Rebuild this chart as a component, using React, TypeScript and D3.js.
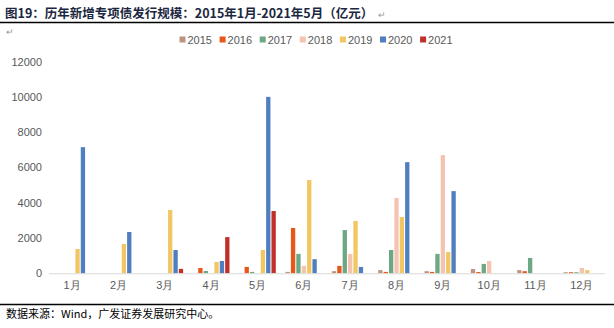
import React from "react";
import * as d3 from "d3";

const months = ["1月", "2月", "3月", "4月", "5月", "6月", "7月", "8月", "9月", "10月", "11月", "12月"];
const years = ["2015", "2016", "2017", "2018", "2019", "2020", "2021"];
const colors = ["#BC9581", "#E8561A", "#6DA885", "#F5C4B1", "#F2C663", "#4F7FBF", "#C0302A"];

const s2015 = [0, 0, 0, 0, 0, 80, 120, 180, 120, 240, 180, 60];
const s2016 = [0, 0, 0, 300, 360, 2570, 420, 80, 80, 70, 120, 60];
const s2017 = [0, 0, 0, 130, 80, 1100, 2450, 1320, 1100, 530, 870, 60];
const s2018 = [0, 0, 0, 0, 0, 420, 1100, 4270, 6700, 700, 0, 300];
const s2019 = [1380, 1660, 3590, 640, 1320, 5290, 2970, 3190, 1210, 0, 0, 180];
const s2020 = [7150, 2340, 1320, 700, 10000, 800, 360, 6300, 4660, 0, 0, 0];
const s2021 = [0, 0, 250, 2050, 3530, 0, 0, 0, 0, 0, 0, 0];
const seriesValues = [s2015, s2016, s2017, s2018, s2019, s2020, s2021];
const yTicks = [0, 2000, 4000, 6000, 8000, 10000, 12000];

const W = 614;
const H = 328;
const left = 49;
const right = 605;
const top = 61.6;
const bottom = 273.3;

export default function App() {
  const x0 = d3.scaleBand<string>().domain(months).range([left, right]).paddingInner(0.21).paddingOuter(0.105);
  const x1 = d3.scaleBand<string>().domain(years).range([0, x0.bandwidth()]).paddingInner(0.2);
  const y = d3.scaleLinear().domain([0, 12000]).range([bottom, top]);
  const grey = "#595959";
  const font = "Arial, 'Liberation Sans', sans-serif";
  const cjk = "'Noto Sans CJK SC', sans-serif";

  return (
    <div style={{ position: "absolute", left: 0, top: 0 }}>
      <svg width={W} height={H} style={{ display: "block", background: "#fff" }}>
        <text x={5} y={17.5} fontSize={12.5} fontWeight="bold" fill="#1B2741" fontFamily={cjk}>
          图19：历年新增专项债发行规模：2015年1月-2021年5月（亿元）
          <tspan dx={5} fontSize={9} fontWeight="normal" fill="#999">↵</tspan>
        </text>
        <line x1={0} x2={W} y1={22.5} y2={22.5} stroke="#000" strokeWidth={1.3} />
        <text x={6} y={35} fontSize={9} fill="#999">↵</text>

        {years.map((yr, i) => (
          <g key={yr} transform={`translate(${179.5 + i * 40.1},0)`}>
            <rect x={0} y={36.5} width={6} height={6} fill={colors[i]} />
            <text x={8} y={43.5} fontSize={11} fill={grey} fontFamily={font}>{yr}</text>
          </g>
        ))}

        {yTicks.map((t) => (
          <text key={t} x={42} y={y(t) + 4} fontSize={11} fill={grey} textAnchor="end" fontFamily={font}>{t}</text>
        ))}

        {months.map((m, mi) => (
          <g key={m} transform={`translate(${x0(m)},0)`}>
            {years.map((yr, si) => {
              const v = seriesValues[si][mi];
              if (!v) return null;
              return (
                <rect key={yr} x={x1(yr)} y={y(v)} width={x1.bandwidth()} height={y(0) - y(v)} fill={colors[si]} />
              );
            })}
          </g>
        ))}

        <line x1={left} x2={right} y1={bottom + 0.5} y2={bottom + 0.5} stroke="#D9D9D9" strokeWidth={1} />

        {months.map((m) => (
          <text key={m} x={(x0(m) ?? 0) + x0.bandwidth() / 2} y={289} fontSize={11} fill={grey} textAnchor="middle" fontFamily={font}>{m}</text>
        ))}

        <line x1={0} x2={W} y1={304.5} y2={304.5} stroke="#000" strokeWidth={1.3} />
        <text x={6} y={318} fontSize={11} fill="#000" fontFamily={cjk}>数据来源：Wind，广发证券发展研究中心。</text>
      </svg>
    </div>
  );
}
